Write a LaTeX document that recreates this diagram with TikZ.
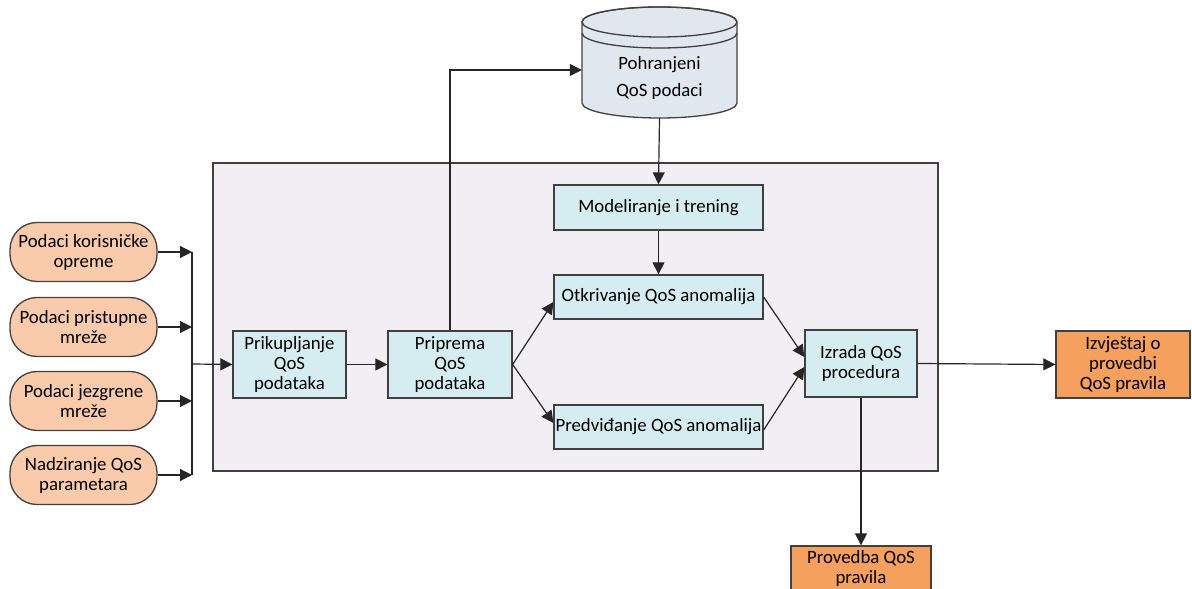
\documentclass[tikz,border=0pt]{standalone}
\usepackage{fontspec}
\setmainfont{Carlito}
\usetikzlibrary{arrows.meta}
\definecolor{boxblue}{HTML}{D5EDF1}
\definecolor{peach}{HTML}{F9CBAA}
\definecolor{darkor}{HTML}{F5A05C}
\definecolor{panel}{HTML}{F1EFF4}
\definecolor{edge}{HTML}{404040}
\definecolor{dbfill}{HTML}{E1E7EE}
\begin{document}
\begin{tikzpicture}[x=1pt,y=1pt,
 every node/.style={font=\fontsize{18.8}{20}\selectfont, text=black, align=center, inner sep=0pt},
 proc/.style={draw=edge, line width=1.3pt, fill=boxblue},
 src/.style={draw=edge, line width=1.3pt, fill=peach, rounded corners=27pt, minimum width=147pt, minimum height=59pt},
 outp/.style={draw=edge, line width=1.3pt, fill=darkor},
 conn/.style={draw=black!85, line width=1.2pt, -{Triangle[length=12pt,width=12pt]}},
 plain/.style={draw=black!85, line width=1.2pt}
]
\useasboundingbox (0,0) rectangle (1192,589);
% panel
\draw[fill=panel, draw=edge, line width=1.2pt] (213,118) rectangle (938,426);

% cylinder
\path[fill=dbfill, draw=edge, line width=1.3pt] (582,567) -- (582,486)
  arc[start angle=180,end angle=360,x radius=77.5,y radius=15] -- (737,567)
  arc[start angle=0,end angle=180,x radius=77.5,y radius=15] -- cycle;
\draw[edge, line width=1.3pt] (659.5,567) ellipse[x radius=77.5, y radius=15];
\draw[edge, line width=1.3pt] (582,556) arc[start angle=180,end angle=360,x radius=77.5,y radius=15];
\node[minimum width=155pt, minimum height=96pt] (db) at (659.5,519) {};
\node (dbtxt) at (659.5,511) {Pohranjeni\\[7pt]QoS podaci};

% sources
\node[src] (s1) at (83.5,337) {Podaci korisničke\\opreme};
\node[src] (s2) at (83.5,262) {Podaci pristupne\\mreže};
\node[src] (s3) at (83.5,188) {Podaci jezgrene\\mreže};
\node[src] (s4) at (83.5,114) {Nadziranje QoS\\parametara};

% processes
\node[proc, minimum width=113pt, minimum height=67pt] (prk) at (289.5,224.5) {Prikupljanje\\QoS\\podataka};
\node[proc, minimum width=124pt, minimum height=67pt] (prp) at (450,224.5) {Priprema\\QoS\\podataka};
\node[proc, minimum width=209pt, minimum height=45pt] (mod) at (658.5,381.5) {Modeliranje i trening};
\node[proc, minimum width=209pt, minimum height=44pt] (otk) at (658.5,292) {Otkrivanje QoS anomalija};
\node[proc, minimum width=209pt, minimum height=44pt] (pre) at (658.5,162) {Predviđanje QoS anomalija};
\node[proc, minimum width=112pt, minimum height=67pt] (izr) at (861,225.5) {Izrada QoS\\procedura};
\node[outp, minimum width=134pt, minimum height=67pt] (izv) at (1123,224.5) {Izvještaj o\\provedbi\\QoS pravila};
\node[outp, minimum width=140pt, minimum height=44pt] (prv) at (861,21) {Provedba QoS\\pravila};

% source connectors
\coordinate (j) at (192,225);
\foreach \s in {s1,s2,s3,s4}{\draw[conn] (\s.east) -- (\s.east -| j);}
\draw[plain] (s1.east -| j) -- (s4.east -| j);
\draw[conn] (j) -- (prk.west);

\draw[conn] (prk) -- (prp);
\draw[conn] (prp.north) |- (db.west);
\draw[conn] (db.south) -- (mod.north);
\draw[conn] (mod.south) -- (otk.north);
\draw[conn] (prp.east) -- ([yshift=-5pt]otk.west);
\draw[conn] (prp.east) -- ([yshift=4pt]pre.west);
\draw[conn] (otk.east) -- ([yshift=6.5pt]izr.west);
\draw[conn] ([yshift=-3pt]pre.east) -- ([yshift=-3.5pt]izr.west);
\draw[conn] (izr.east) -- (izv.west);
\draw[conn] (izr.south) -- (prv.north);
\end{tikzpicture}
\end{document}
